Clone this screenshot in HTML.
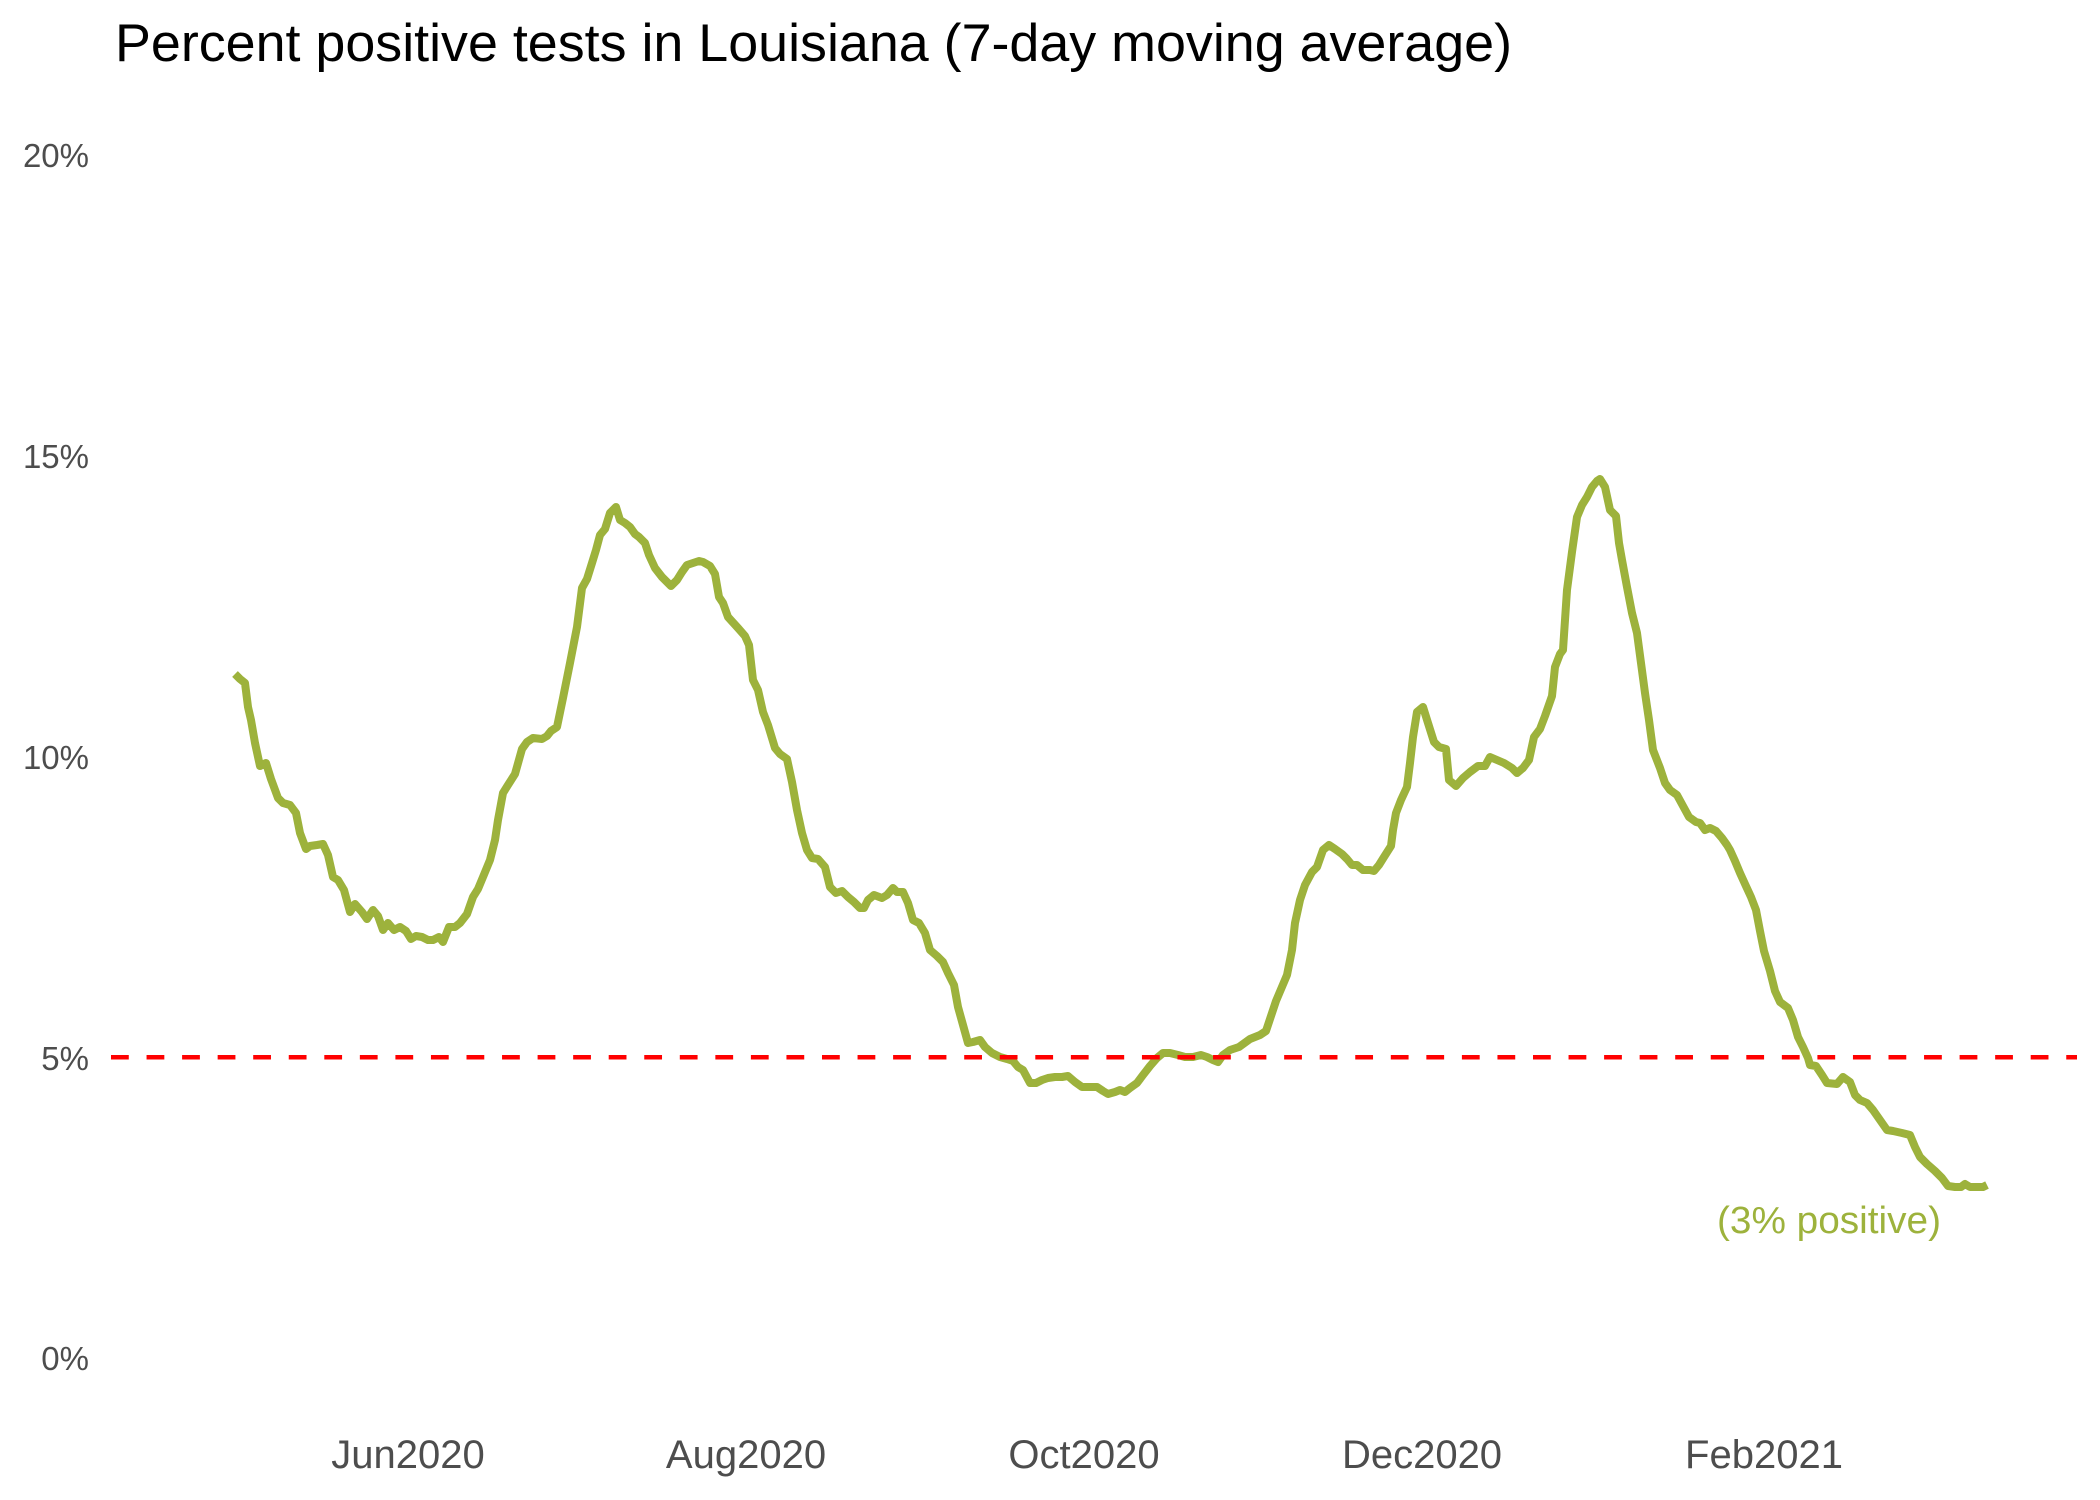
<!DOCTYPE html>
<html>
<head>
<meta charset="utf-8">
<style>
html,body{margin:0;padding:0;background:#fff;}
svg{display:block;}
</style>
</head>
<body>
<svg width="2100" height="1500" viewBox="0 0 2100 1500" xmlns="http://www.w3.org/2000/svg">
<rect x="0" y="0" width="2100" height="1500" fill="#ffffff"/>
<text x="115" y="61" font-family="Liberation Sans, sans-serif" font-size="53" fill="#000" textLength="1397" lengthAdjust="spacingAndGlyphs">Percent positive tests in Louisiana (7-day moving average)</text>
<g font-family="Liberation Sans, sans-serif" font-size="33" fill="#4d4d4d" text-anchor="end">
<text x="89" y="167">20%</text>
<text x="89" y="468">15%</text>
<text x="89" y="769">10%</text>
<text x="89" y="1070">5%</text>
<text x="89" y="1370">0%</text>
</g>
<g font-family="Liberation Sans, sans-serif" font-size="40" fill="#4d4d4d" text-anchor="middle">
<text x="408" y="1468">Jun2020</text>
<text x="746" y="1468">Aug2020</text>
<text x="1084" y="1468">Oct2020</text>
<text x="1422" y="1468">Dec2020</text>
<text x="1764" y="1468">Feb2021</text>
</g>
<polyline fill="none" stroke="#9db23c" stroke-width="8" stroke-linejoin="round" stroke-linecap="butt" points="235,674 240,679 245,683 248,707 251,720 255,743 260,766 266,763 271,779 278,798 283,803 290,805 296,813 300,833 306,849 310,846 317,845 323,844 328,855 333,877 338,880 344,890 350,912 355,904 362,912 367,919 373,910 378,916 383,930 388,923 394,930 400,927 406,931 411,939 416,936 422,937 428,940 433,940 439,937 443,942 449,927 455,927 460,923 467,914 473,897 478,889 483,877 490,860 495,840 498,820 503,793 508,785 515,774 522,749 527,742 533,738 542,739 547,736 551,731 557,727 563,698 570,663 577,627 582,588 587,579 592,563 596,550 600,535 605,529 610,513 616,507 620,520 625,523 630,527 635,534 639,537 645,543 649,555 655,568 662,577 671,586 677,580 682,572 687,565 693,563 699,561 703,562 710,566 715,574 719,597 723,603 728,617 738,628 745,636 749,645 753,680 758,690 763,712 768,725 775,748 780,754 787,759 792,782 797,810 802,833 807,850 812,858 818,859 825,867 830,887 836,893 842,891 848,897 854,902 860,908 864,908 868,900 874,895 882,898 887,895 893,888 897,892 903,892 908,903 913,920 919,923 925,933 930,950 937,956 943,962 948,973 954,985 958,1007 963,1025 968,1043 973,1042 980,1040 985,1047 992,1053 1000,1057 1007,1059 1013,1061 1018,1067 1023,1070 1030,1083 1036,1083 1042,1080 1048,1078 1055,1077 1062,1077 1068,1076 1075,1082 1082,1087 1090,1087 1097,1087 1103,1091 1108,1094 1115,1092 1120,1090 1125,1092 1130,1088 1137,1083 1143,1075 1150,1066 1157,1058 1163,1053 1170,1053 1178,1055 1185,1057 1193,1057 1201,1055 1207,1057 1213,1060 1218,1062 1223,1055 1230,1050 1239,1047 1250,1039 1260,1035 1266,1031 1276,1001 1287,975 1292,950 1295,923 1300,900 1305,885 1312,872 1317,867 1323,850 1329,845 1335,849 1342,854 1347,859 1352,865 1357,865 1363,870 1370,870 1374,871 1379,865 1384,857 1391,846 1393,830 1396,813 1401,800 1407,787 1410,763 1413,737 1417,712 1423,707 1428,723 1434,742 1439,747 1446,749 1449,780 1456,786 1463,778 1470,772 1478,766 1485,766 1490,757 1497,760 1504,763 1512,768 1517,773 1523,768 1529,760 1534,737 1540,729 1545,716 1552,696 1555,667 1560,654 1563,650 1567,590 1572,552 1577,517 1582,505 1587,497 1592,487 1597,481 1600,479 1605,487 1610,510 1616,516 1619,543 1622,560 1627,587 1632,613 1637,633 1641,663 1645,693 1649,720 1653,750 1660,768 1665,783 1670,790 1677,795 1683,806 1689,817 1696,822 1700,823 1705,830 1710,828 1716,831 1722,838 1727,845 1730,850 1735,861 1740,873 1745,884 1751,897 1756,910 1760,931 1764,951 1770,971 1775,991 1780,1002 1788,1008 1793,1020 1798,1037 1803,1047 1808,1058 1810,1065 1816,1066 1822,1075 1827,1083 1837,1084 1843,1077 1850,1082 1855,1095 1860,1100 1867,1103 1873,1110 1880,1120 1887,1130 1893,1131 1902,1133 1910,1135 1915,1147 1920,1157 1927,1164 1935,1171 1942,1178 1948,1186 1955,1187 1961,1187 1965,1184 1970,1187 1978,1187 1983,1187 1987,1185"/>
<line x1="111" y1="1057.3" x2="2077" y2="1057.3" stroke="#ff0000" stroke-width="4.5" stroke-dasharray="17.78 17.77" stroke-linecap="butt"/>
<text x="1717" y="1233" font-family="Liberation Sans, sans-serif" font-size="38" fill="#9db23c" textLength="224" lengthAdjust="spacingAndGlyphs">(3% positive)</text>
</svg>
</body>
</html>
